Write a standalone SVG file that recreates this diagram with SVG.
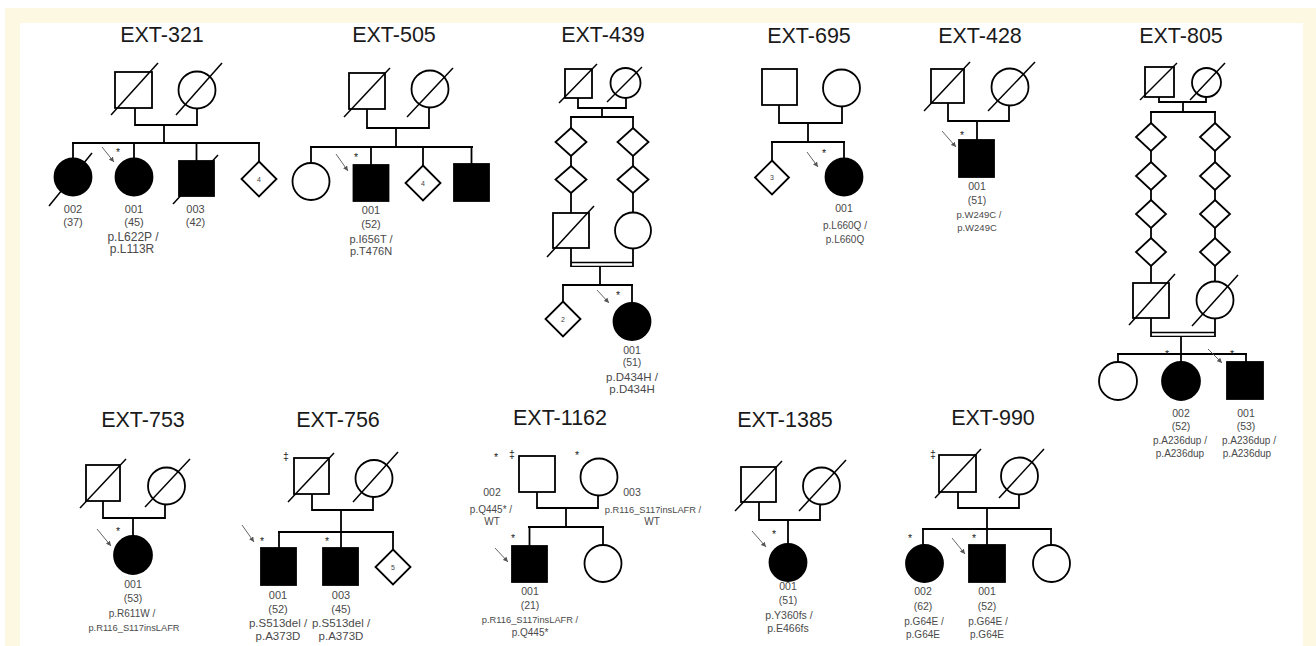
<svg xmlns="http://www.w3.org/2000/svg" width="1316" height="646" viewBox="0 0 1316 646">
<style>
.sym{fill:#fff;stroke:#000;stroke-width:1.8}
.aff{fill:#000;stroke:#000;stroke-width:1.8}
.ln{fill:none;stroke:#000;stroke-width:1.8}
.dbl{fill:none;stroke:#000;stroke-width:1.3}
.dec{stroke:#000;stroke-width:1.5}
.arr{stroke:#555;stroke-width:0.9;marker-end:url(#ah)}
.title{font-family:'Liberation Sans',Arial,sans-serif;font-size:21.5px;fill:#1a1a1a;text-anchor:middle}
.lab{font-family:'Liberation Sans',Arial,sans-serif;font-size:10.5px;fill:#4a4a4a;text-anchor:middle}
.var{font-family:'Liberation Sans',Arial,sans-serif;font-size:10.5px;fill:#4a4a4a;text-anchor:middle}
.f9{font-size:9.5px}
.f10{font-size:10px}
.f105{font-size:10.5px}
.f11{font-size:11px}
.f115{font-size:11.5px}
.f12{font-size:12px}
.sm{font-size:9.3px}
.ast{font-family:'Liberation Sans',Arial,sans-serif;font-size:10.5px;fill:#222;text-anchor:middle}
.num{font-family:'Liberation Sans',Arial,sans-serif;font-size:7px;fill:#444;text-anchor:middle}
</style>
<defs>
<marker id="ah" viewBox="0 0 10 10" refX="10" refY="5" markerWidth="5" markerHeight="5" markerUnits="userSpaceOnUse" orient="auto">
<path d="M0,0 L10,5 L0,10 z" fill="#555"/>
</marker>
</defs>
<rect x="0" y="0" width="1316" height="646" fill="#fff"/>
<rect x="5" y="8" width="1311" height="638" fill="#fdf8e2"/>
<rect x="20" y="23" width="1283" height="623" fill="#fff"/>

<g id="titles">
<text class="title" x="162" y="42">EXT-321</text>
<text class="title" x="394" y="42">EXT-505</text>
<text class="title" x="603" y="42">EXT-439</text>
<text class="title" x="809" y="43">EXT-695</text>
<text class="title" x="980" y="43">EXT-428</text>
<text class="title" x="1181" y="43">EXT-805</text>
<text class="title" x="143" y="427">EXT-753</text>
<text class="title" x="338" y="427">EXT-756</text>
<text class="title" x="560" y="425">EXT-1162</text>
<text class="title" x="785" y="427">EXT-1385</text>
<text class="title" x="993" y="425">EXT-990</text>
</g>

<g id="connectors">
<!-- EXT-321 -->
<polyline class="ln" points="135,108 135,125 197,125 197,108.5"/>
<line class="ln" x1="164" y1="125" x2="164" y2="143"/>
<line class="ln" x1="72" y1="143" x2="260" y2="143"/>
<line class="ln" x1="73" y1="143" x2="73" y2="158.5"/>
<line class="ln" x1="134" y1="143" x2="134" y2="158.5"/>
<line class="ln" x1="196.5" y1="143" x2="196.5" y2="161"/>
<line class="ln" x1="259" y1="143" x2="259" y2="161.5"/>
<!-- EXT-505 -->
<polyline class="ln" points="367,109 367,128 429,128 429,107.5"/>
<line class="ln" x1="396" y1="128" x2="396" y2="147"/>
<line class="ln" x1="310" y1="147" x2="473" y2="147"/>
<line class="ln" x1="311" y1="147" x2="311" y2="163"/>
<line class="ln" x1="371" y1="147" x2="371" y2="165"/>
<line class="ln" x1="423" y1="147" x2="423" y2="165.5"/>
<line class="ln" x1="471.5" y1="147" x2="471.5" y2="164"/>
<!-- EXT-439 -->
<polyline class="ln" points="578,98 578,108 626,108 626,98"/>
<line class="ln" x1="602" y1="108" x2="602" y2="117"/>
<line class="ln" x1="570" y1="117" x2="634" y2="117"/>
<line class="ln" x1="571" y1="117" x2="571" y2="128"/>
<line class="ln" x1="571" y1="156" x2="571" y2="166"/>
<line class="ln" x1="571" y1="193" x2="571" y2="213"/>
<line class="ln" x1="633" y1="117" x2="633" y2="128"/>
<line class="ln" x1="633" y1="156" x2="633" y2="166"/>
<line class="ln" x1="633" y1="193" x2="633" y2="212.5"/>
<line class="ln" x1="571" y1="248" x2="571" y2="267"/>
<line class="ln" x1="633" y1="248.5" x2="633" y2="267"/>
<line class="dbl" x1="571" y1="262.5" x2="633" y2="262.5"/>
<line class="dbl" x1="571" y1="266.3" x2="633" y2="266.3"/>
<line class="ln" x1="600" y1="266" x2="600" y2="285"/>
<line class="ln" x1="562" y1="285" x2="633" y2="285"/>
<line class="ln" x1="563" y1="285" x2="563" y2="301.5"/>
<line class="ln" x1="632" y1="285" x2="632" y2="303"/>
<!-- EXT-695 -->
<polyline class="ln" points="779,105 779,123 842,123 842,106.5"/>
<line class="ln" x1="808" y1="123" x2="808" y2="142"/>
<line class="ln" x1="771" y1="142" x2="845" y2="142"/>
<line class="ln" x1="772" y1="142" x2="772" y2="160.5"/>
<line class="ln" x1="844" y1="142" x2="844" y2="158.5"/>
<!-- EXT-428 -->
<polyline class="ln" points="948,103 948,121 1009,121 1009,105.5"/>
<line class="ln" x1="977" y1="121" x2="977" y2="140"/>
<!-- EXT-805 -->
<polyline class="ln" points="1159,97 1159,102 1206,102 1206,97"/>
<line class="ln" x1="1183" y1="102" x2="1183" y2="112"/>
<line class="ln" x1="1150" y1="112" x2="1216" y2="112"/>
<line class="ln" x1="1151" y1="112" x2="1151" y2="123"/>
<line class="ln" x1="1151" y1="151" x2="1151" y2="162"/>
<line class="ln" x1="1151" y1="190" x2="1151" y2="200"/>
<line class="ln" x1="1151" y1="228" x2="1151" y2="238"/>
<line class="ln" x1="1151" y1="266" x2="1151" y2="283"/>
<line class="ln" x1="1215" y1="112" x2="1215" y2="123"/>
<line class="ln" x1="1215" y1="151" x2="1215" y2="162"/>
<line class="ln" x1="1215" y1="190" x2="1215" y2="200"/>
<line class="ln" x1="1215" y1="228" x2="1215" y2="238"/>
<line class="ln" x1="1215" y1="266" x2="1215" y2="281.5"/>
<line class="ln" x1="1151" y1="318" x2="1151" y2="337"/>
<line class="ln" x1="1215" y1="318.5" x2="1215" y2="337"/>
<line class="dbl" x1="1151" y1="332.5" x2="1215" y2="332.5"/>
<line class="dbl" x1="1151" y1="336.3" x2="1215" y2="336.3"/>
<line class="ln" x1="1181" y1="336" x2="1181" y2="354"/>
<line class="ln" x1="1117" y1="354" x2="1247" y2="354"/>
<line class="ln" x1="1118" y1="354" x2="1118" y2="362"/>
<line class="ln" x1="1181" y1="354" x2="1181" y2="362"/>
<line class="ln" x1="1246" y1="354" x2="1246" y2="362"/>
<!-- EXT-753 -->
<polyline class="ln" points="103,501 103,518 165,518 165,504.5"/>
<line class="ln" x1="133" y1="518" x2="133" y2="536"/>
<!-- EXT-756 -->
<polyline class="ln" points="312,494 312,510 373,510 373,497"/>
<line class="ln" x1="341" y1="510" x2="341" y2="532"/>
<line class="ln" x1="278" y1="532" x2="394" y2="532"/>
<line class="ln" x1="279" y1="532" x2="279" y2="548"/>
<line class="ln" x1="341" y1="532" x2="341" y2="548"/>
<line class="ln" x1="393" y1="532" x2="393" y2="549.5"/>
<!-- EXT-1162 -->
<polyline class="ln" points="537,492 537,508 598,508 598,495.5"/>
<line class="ln" x1="566" y1="508" x2="566" y2="527"/>
<line class="ln" x1="528" y1="527" x2="604" y2="527"/>
<line class="ln" x1="529.5" y1="527" x2="529.5" y2="546"/>
<line class="ln" x1="603" y1="527" x2="603" y2="545"/>
<!-- EXT-1385 -->
<polyline class="ln" points="759,502 759,520 820,520 820,504.5"/>
<line class="ln" x1="788" y1="520" x2="788" y2="544"/>
<!-- EXT-990 -->
<polyline class="ln" points="958,492 958,508 1019,508 1019,494.5"/>
<line class="ln" x1="987" y1="508" x2="987" y2="529"/>
<line class="ln" x1="922" y1="529" x2="1052" y2="529"/>
<line class="ln" x1="923" y1="529" x2="923" y2="545"/>
<line class="ln" x1="987" y1="529" x2="987" y2="545"/>
<line class="ln" x1="1051" y1="529" x2="1051" y2="545"/>
</g>

<!-- EXT-321 nodes -->
<g id="ext321-father"><rect class="sym" x="115" y="72" width="37" height="36"/><line class="dec" x1="111" y1="115" x2="158" y2="63"/></g>
<g id="ext321-mother"><circle class="sym" cx="197" cy="90" r="18.5"/><line class="dec" x1="176" y1="115" x2="222" y2="63"/></g>
<g id="ext321-002"><circle class="aff" cx="73" cy="177" r="18.5"/><line class="dec" x1="49" y1="206" x2="92" y2="153"/>
<text class="lab f11" x="73" y="213">002</text><text class="lab f11" x="73" y="225.5">(37)</text></g>
<g id="ext321-001"><circle class="aff" cx="134" cy="177" r="18.5"/><text class="ast" x="118" y="156">*</text><line class="arr" x1="102" y1="147" x2="114" y2="162"/>
<text class="lab f11" x="134" y="213">001</text><text class="lab f11" x="134" y="225.5">(45)</text><text class="var f12" x="133" y="240.5">p.L622P /</text><text class="var f12" x="132" y="252.5">p.L113R</text></g>
<g id="ext321-003"><rect class="aff" x="179" y="161" width="35" height="35"/><line class="dec" x1="173" y1="204" x2="218" y2="155"/>
<text class="lab f11" x="195.5" y="213">003</text><text class="lab f11" x="195.5" y="225.5">(42)</text></g>
<g id="ext321-sibs4"><polygon class="sym" points="259,161.5 276.5,179 259,196.5 241.5,179"/><text class="num" x="259" y="181.5">4</text></g>

<!-- EXT-505 nodes -->
<g id="ext505-father"><rect class="sym" x="349" y="73" width="36" height="36"/><line class="dec" x1="344" y1="117" x2="390" y2="68"/></g>
<g id="ext505-mother"><circle class="sym" cx="430" cy="89" r="18.5"/><line class="dec" x1="407" y1="117" x2="453" y2="68"/></g>
<g id="ext505-sister"><circle class="sym" cx="311" cy="181.5" r="18.5"/></g>
<g id="ext505-001"><rect class="aff" x="353.5" y="165" width="35" height="36"/><text class="ast" x="356" y="161">*</text><line class="arr" x1="336" y1="154" x2="348" y2="171"/>
<text class="lab f11" x="371" y="214">001</text><text class="lab f11" x="371" y="228">(52)</text><text class="var f11" x="371" y="243">p.I656T /</text><text class="var f11" x="371" y="255">p.T476N</text></g>
<g id="ext505-sibs4"><polygon class="sym" points="423,165.5 440.5,183 423,200.5 405.5,183"/><text class="num" x="423" y="185.5">4</text></g>
<g id="ext505-brother"><rect class="aff" x="454" y="164" width="35" height="37"/></g>

<!-- EXT-439 nodes -->
<g id="ext439-gf"><rect class="sym" x="565" y="69" width="27" height="29"/><line class="dec" x1="559" y1="103" x2="597" y2="64"/></g>
<g id="ext439-gm"><circle class="sym" cx="625.5" cy="83" r="15"/><line class="dec" x1="607" y1="102" x2="642" y2="67"/></g>
<g id="ext439-l1"><polygon class="sym" points="571,128 586.5,142 571,156 555.5,142"/></g>
<g id="ext439-l2"><polygon class="sym" points="571,166 586.5,179.5 571,193 555.5,179.5"/></g>
<g id="ext439-r1"><polygon class="sym" points="633,128 648.5,142 633,156 617.5,142"/></g>
<g id="ext439-r2"><polygon class="sym" points="633,166 648.5,179.5 633,193 617.5,179.5"/></g>
<g id="ext439-father"><rect class="sym" x="553" y="213" width="36" height="35"/><line class="dec" x1="547" y1="257" x2="594" y2="206"/></g>
<g id="ext439-mother"><circle class="sym" cx="633" cy="230.5" r="18"/></g>
<g id="ext439-sibs2"><polygon class="sym" points="563,301.5 580.5,319 563,336.5 545.5,319"/><text class="num" x="563" y="321.5">2</text></g>
<g id="ext439-001"><circle class="aff" cx="632" cy="321.5" r="18.5"/><text class="ast" x="618" y="299">*</text><line class="arr" x1="597" y1="290" x2="609" y2="303"/>
<text class="lab f105" x="632" y="354">001</text><text class="lab f105" x="632" y="366">(51)</text><text class="var f115" x="632" y="381">p.D434H /</text><text class="var f115" x="632" y="393">p.D434H</text></g>

<!-- EXT-695 nodes -->
<g id="ext695-father"><rect class="sym" x="762" y="69" width="35" height="36"/></g>
<g id="ext695-mother"><circle class="sym" cx="841.5" cy="88" r="18.5"/></g>
<g id="ext695-sibs3"><polygon class="sym" points="772,160.5 789,177.5 772,194.5 755,177.5"/><text class="num" x="772" y="180">3</text></g>
<g id="ext695-001"><circle class="aff" cx="844" cy="177" r="18.5"/><text class="ast" x="824" y="156.5">*</text><line class="arr" x1="807" y1="152" x2="818" y2="167"/>
<text class="lab f105" x="844" y="212">001</text><text class="var f10" x="845" y="229">p.L660Q /</text><text class="var f10" x="845" y="243">p.L660Q</text></g>

<!-- EXT-428 nodes -->
<g id="ext428-father"><rect class="sym" x="931" y="69" width="33" height="34"/><line class="dec" x1="924" y1="111" x2="970" y2="62"/></g>
<g id="ext428-mother"><circle class="sym" cx="1010" cy="87" r="18.5"/><line class="dec" x1="988" y1="111" x2="1035" y2="62"/></g>
<g id="ext428-001"><rect class="aff" x="959" y="140" width="35" height="37"/><text class="ast" x="962" y="138.5">*</text><line class="arr" x1="942" y1="131" x2="956" y2="147"/>
<text class="lab f105" x="977" y="190">001</text><text class="lab f105" x="977" y="203.5">(51)</text><text class="var f9" x="979" y="217.5">p.W249C /</text><text class="var f9" x="977" y="231">p.W249C</text></g>

<!-- EXT-805 nodes -->
<g id="ext805-gf"><rect class="sym" x="1145" y="67" width="29" height="30"/><line class="dec" x1="1140" y1="100" x2="1177" y2="63"/></g>
<g id="ext805-gm"><circle class="sym" cx="1206.5" cy="82.5" r="14.5"/><line class="dec" x1="1190" y1="100" x2="1225" y2="63"/></g>
<g id="ext805-l1"><polygon class="sym" points="1151,123 1166,137 1151,151 1136,137"/></g>
<g id="ext805-l2"><polygon class="sym" points="1151,162 1166,176 1151,190 1136,176"/></g>
<g id="ext805-l3"><polygon class="sym" points="1151,200 1166,214 1151,228 1136,214"/></g>
<g id="ext805-l4"><polygon class="sym" points="1151,238 1166,252 1151,266 1136,252"/></g>
<g id="ext805-r1"><polygon class="sym" points="1215,123 1230,137 1215,151 1200,137"/></g>
<g id="ext805-r2"><polygon class="sym" points="1215,162 1230,176 1215,190 1200,176"/></g>
<g id="ext805-r3"><polygon class="sym" points="1215,200 1230,214 1215,228 1200,214"/></g>
<g id="ext805-r4"><polygon class="sym" points="1215,238 1230,252 1215,266 1200,252"/></g>
<g id="ext805-father"><rect class="sym" x="1133" y="283" width="36" height="35"/><line class="dec" x1="1129" y1="325" x2="1175" y2="274"/></g>
<g id="ext805-mother"><circle class="sym" cx="1215" cy="300" r="18.5"/><line class="dec" x1="1192" y1="326" x2="1238" y2="275"/></g>
<g id="ext805-sister"><circle class="sym" cx="1118" cy="381" r="19"/></g>
<g id="ext805-002"><circle class="aff" cx="1181" cy="381" r="19"/><text class="ast" x="1167" y="357.5">*</text>
<text class="lab f105" x="1181" y="417">002</text><text class="lab f105" x="1181" y="430">(52)</text><text class="var f10" x="1180" y="444">p.A236dup /</text><text class="var f10" x="1180" y="457">p.A236dup</text></g>
<g id="ext805-001"><rect class="aff" x="1227" y="362" width="36" height="37"/><text class="ast" x="1232" y="357.5">*</text><line class="arr" x1="1208" y1="349" x2="1222" y2="363"/>
<text class="lab f105" x="1246" y="417">001</text><text class="lab f105" x="1246" y="430">(53)</text><text class="var f10" x="1249" y="444">p.A236dup /</text><text class="var f10" x="1247" y="457">p.A236dup</text></g>

<!-- EXT-753 nodes -->
<g id="ext753-father"><rect class="sym" x="86" y="465" width="34" height="36"/><line class="dec" x1="80" y1="508" x2="126" y2="459"/></g>
<g id="ext753-mother"><circle class="sym" cx="166.5" cy="486" r="18.5"/><line class="dec" x1="145" y1="507" x2="190" y2="459"/></g>
<g id="ext753-001"><circle class="aff" cx="133" cy="555" r="19"/><text class="ast" x="118" y="534.5">*</text><line class="arr" x1="97" y1="529" x2="111" y2="546"/>
<text class="lab f105" x="133" y="588">001</text><text class="lab f105" x="133" y="602">(53)</text><text class="var f10" x="132" y="617">p.R611W /</text><text class="var sm" x="134" y="631">p.R116_S117insLAFR</text></g>

<!-- EXT-756 nodes -->
<g id="ext756-father"><rect class="sym" x="294" y="458" width="35" height="36"/><line class="dec" x1="288" y1="502" x2="334" y2="453"/><text class="ast" x="286" y="460">‡</text></g>
<g id="ext756-mother"><circle class="sym" cx="374" cy="478.5" r="18.5"/><line class="dec" x1="353" y1="502" x2="398" y2="452"/></g>
<g id="ext756-001"><rect class="aff" x="261" y="548" width="35" height="37"/><text class="ast" x="262" y="544.5">*</text><line class="arr" x1="242" y1="525" x2="254" y2="542"/>
<text class="lab f11" x="278" y="599">001</text><text class="lab f11" x="278" y="613">(52)</text><text class="var f115" x="278" y="627">p.S513del /</text><text class="var f115" x="278" y="640">p.A373D</text></g>
<g id="ext756-003"><rect class="aff" x="323" y="548" width="35" height="37"/><text class="ast" x="327" y="544.5">*</text>
<text class="lab f11" x="341" y="599">003</text><text class="lab f11" x="341" y="613">(45)</text><text class="var f115" x="341" y="627">p.S513del /</text><text class="var f115" x="341" y="640">p.A373D</text></g>
<g id="ext756-sibs5"><polygon class="sym" points="393,549.5 410.5,567 393,584.5 375.5,567"/><text class="num" x="393" y="569.5">5</text></g>

<!-- EXT-1162 nodes -->
<g id="ext1162-002"><rect class="sym" x="519" y="456" width="36" height="36"/><text class="ast" x="496" y="460.5">*</text><text class="ast" x="512" y="458">‡</text>
<text class="lab f105" x="492" y="496">002</text><text class="var f10" x="491" y="513">p.Q445* /</text><text class="var f10" x="492" y="525">WT</text></g>
<g id="ext1162-003"><circle class="sym" cx="599" cy="477" r="18.5"/><text class="ast" x="577" y="459">*</text>
<text class="lab f105" x="632" y="496">003</text><text class="var sm" x="653" y="513">p.R116_S117insLAFR /</text><text class="var f10" x="652" y="525">WT</text></g>
<g id="ext1162-001"><rect class="aff" x="512" y="546" width="35" height="36"/><text class="ast" x="513" y="541.5">*</text><line class="arr" x1="495" y1="548" x2="508" y2="562"/>
<text class="lab f105" x="530" y="595">001</text><text class="lab f105" x="530" y="609">(21)</text><text class="var sm" x="530" y="622.5">p.R116_S117insLAFR /</text><text class="var f10" x="530" y="636">p.Q445*</text></g>
<g id="ext1162-sister"><circle class="sym" cx="603" cy="563.5" r="18.5"/></g>

<!-- EXT-1385 nodes -->
<g id="ext1385-father"><rect class="sym" x="741" y="467" width="35" height="35"/><line class="dec" x1="735" y1="511" x2="782" y2="461"/></g>
<g id="ext1385-mother"><circle class="sym" cx="821.5" cy="486" r="18.5"/><line class="dec" x1="799" y1="511" x2="846" y2="460"/></g>
<g id="ext1385-001"><circle class="aff" cx="788" cy="562.5" r="18.5"/><text class="ast" x="774" y="537.5">*</text><line class="arr" x1="752" y1="531" x2="766" y2="547"/>
<text class="lab f105" x="788" y="590">001</text><text class="lab f105" x="788" y="604">(51)</text><text class="var f105" x="789" y="619">p.Y360fs /</text><text class="var f105" x="788" y="632">p.E466fs</text></g>

<!-- EXT-990 nodes -->
<g id="ext990-father"><rect class="sym" x="939" y="455" width="37" height="37"/><line class="dec" x1="935" y1="498" x2="981" y2="449"/><text class="ast" x="933" y="458">‡</text></g>
<g id="ext990-mother"><circle class="sym" cx="1019.5" cy="476" r="18.5"/><line class="dec" x1="999" y1="498" x2="1044" y2="449"/></g>
<g id="ext990-002"><circle class="aff" cx="924.5" cy="563.5" r="18.5"/><text class="ast" x="910" y="541.5">*</text>
<text class="lab f105" x="923" y="595">002</text><text class="lab f105" x="923" y="610">(62)</text><text class="var f10" x="924" y="625">p.G64E /</text><text class="var f10" x="923" y="638">p.G64E</text></g>
<g id="ext990-001"><rect class="aff" x="969" y="545" width="36" height="37"/><text class="ast" x="974" y="541.5">*</text><line class="arr" x1="952" y1="538" x2="965" y2="554"/>
<text class="lab f105" x="987" y="595">001</text><text class="lab f105" x="987" y="610">(52)</text><text class="var f10" x="988" y="625">p.G64E /</text><text class="var f10" x="987" y="638">p.G64E</text></g>
<g id="ext990-sister"><circle class="sym" cx="1051.5" cy="563.5" r="18.5"/></g>
</svg>
